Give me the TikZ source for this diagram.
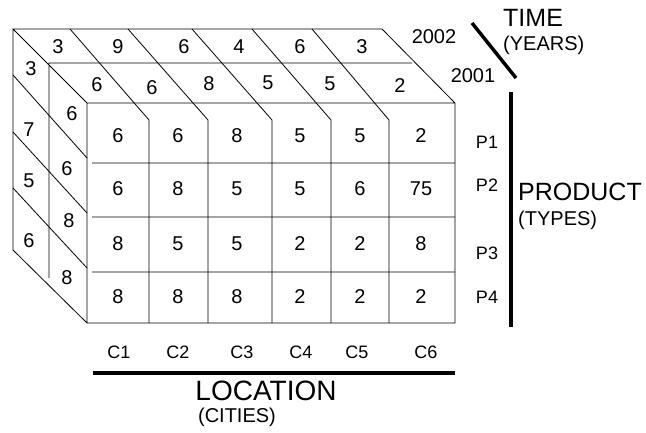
\documentclass[tikz,border=0pt]{standalone}
\usepackage{fontspec}
\setmainfont{Liberation Sans}

\begin{document}
\begin{tikzpicture}[x=1pt,y=-1pt,
    edge/.style={line width=0.8pt},
    cell/.style={font=\fontsize{20}{22}\selectfont, inner sep=0pt},
    lbl/.style={font=\fontsize{18}{20}\selectfont, inner sep=0pt},
    bar/.style={line width=3.5pt},
    title/.style={font=\fontsize{25}{28}\selectfont, inner sep=0pt, anchor=west},
    sub/.style={font=\fontsize{20}{22}\selectfont, inner sep=0pt}]
    \useasboundingbox (0,0) rectangle (646,433);
    \draw[edge]
    % back outline (2002)
    (87,103) -- (13,29) -- (382,29) -- (455,103)
    (13,29) -- (13,250) -- (87,323)
    % front face
    (87,103) rectangle (455,323)
    % 2001 layer
    (49,63) -- (412,63)
    (49,63) -- (49,278)
    ;
    % cities
    \foreach \xb/\xf in {70/149,128/208,192/272,252/331,312/389}
      \draw[edge] (\xb,29) -- (\xf,120) -- (\xf,323);
    % products
    \foreach \yb/\yd/\yf in {75/158/163,132/213/217,188/268/272}
      \draw[edge] (13,\yb) -- (87,\yd) (92,\yf) -- (455,\yf);

    % front face values
    \foreach \x/\a/\b/\c/\d [count=\i] in
      {118/6/6/8/8,178/6/8/5/8,237/8/5/5/8,300/5/5/2/2,360/5/6/2/2,421/2/75/8/2}
      {
        \node[cell] (f\i-1) at (\x,136) {\a};
        \node[cell] (f\i-2) at (\x,189) {\b};
        \node[cell] (f\i-3) at (\x,244) {\c};
        \node[cell] (f\i-4) at (\x,297) {\d};
      }
    % top face
    \foreach \x/\v [count=\i] in {58/3,118/9,184/6,239/4,300/6,362/3}
      \node[cell] (tb\i) at (\x,47) {\v};
    \foreach \x/\y/\v [count=\i] in {97/85/6,152/88/6,209/84/8,268/83/5,330/84/5,400/86/2}
      \node[cell] (tf\i) at (\x,\y) {\v};
    % left face
    \foreach \x/\y/\v [count=\i] in {31/69/3,29/130/7,29/181/5,29/241/6}
      \node[cell] (lb\i) at (\x,\y) {\v};
    \foreach \x/\y/\v [count=\i] in {72/114/6,67/169/6,69/221/8,67/278/8}
      \node[cell] (lf\i) at (\x,\y) {\v};

    % location axis
    \foreach \x [count=\i] in {119,178,242,301,357,426}
      \node[lbl] (c\i) at (\x,352) {C\i};
    \draw[bar] (93,373) -- (455,373);
    \node[font=\fontsize{28}{30}\selectfont, inner sep=0pt] (loc) at (266,391) {LOCATION};
    \node[sub] (cities) at (237,417) {(CITIES)};

    % product axis
    \foreach \y [count=\i] in {142,185,253,297}
      \node[lbl] (p\i) at (487,\y) {P\i};
    \draw[bar] (511,92) -- (511,327);
    \node[title] (prod) at (518,192) {PRODUCT};
    \node[sub, anchor=west] (types) at (518,220) {(TYPES)};

    % time axis
    \node[cell] (y2002) at (434,37) {2002};
    \node[cell] (y2001) at (473,76) {2001};
    \draw[bar] (472,23) -- (516,78);
    \node[title] (time) at (503,18) {TIME};
    \node[sub, anchor=west] (years) at (503,45) {(YEARS)};
\end{tikzpicture}
\end{document}
